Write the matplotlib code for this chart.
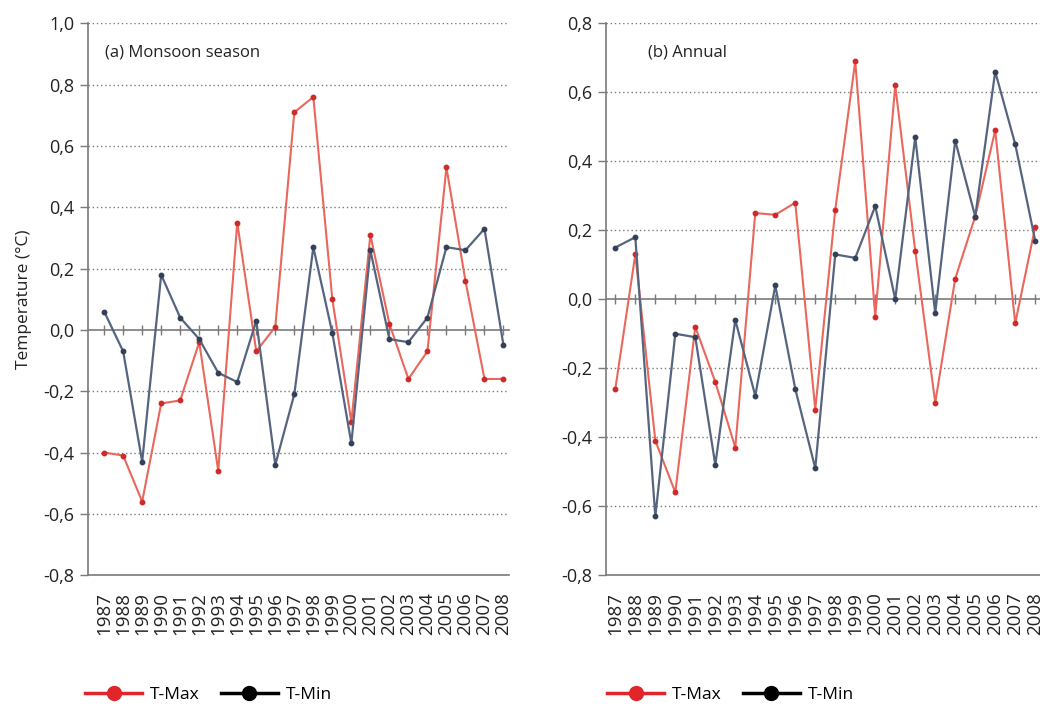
import matplotlib
matplotlib.use("Agg")
import matplotlib.pyplot as plt
from matplotlib.lines import Line2D

plt.rcParams["font.family"] = ["Open Sans", "DejaVu Sans"]
plt.rcParams["axes.unicode_minus"] = False

# ---- data: temperature anomalies (°C) ----
years = list(range(1987, 2009))

monsoon_tmax = [-0.40, -0.41, -0.56, -0.24, -0.23, -0.04, -0.46, 0.35, -0.07, 0.01, 0.71,
                0.76, 0.10, -0.30, 0.31, 0.02, -0.16, -0.07, 0.53, 0.16, -0.16, -0.16]
monsoon_tmin = [0.06, -0.07, -0.43, 0.18, 0.04, -0.03, -0.14, -0.17, 0.03, -0.44, -0.21,
                0.27, -0.01, -0.37, 0.26, -0.03, -0.04, 0.04, 0.27, 0.26, 0.33, -0.05]

annual_tmax = [-0.26, 0.13, -0.41, -0.56, -0.08, -0.24, -0.43, 0.25, 0.245, 0.28, -0.32,
               0.26, 0.69, -0.05, 0.62, 0.14, -0.30, 0.06, 0.24, 0.49, -0.07, 0.21]
annual_tmin = [0.15, 0.18, -0.63, -0.10, -0.11, -0.48, -0.06, -0.28, 0.04, -0.26, -0.49,
               0.13, 0.12, 0.27, 0.00, 0.47, -0.04, 0.46, 0.24, 0.66, 0.45, 0.17]

panel_titles = ["(a) Monsoon season", "(b) Annual"]
legend_labels = ["T-Max", "T-Min"]

RED_LINE, RED_DOT = "#e9675c", "#cf2a2a"
BLUE_LINE, BLUE_DOT = "#56657f", "#334058"
GRAY = "#7a7a7a"


def fmt(v):
    return f"{v:.1f}".replace(".", ",").replace("-0,0", "0,0")


def draw_panel(ax, tmax, tmin, yticks, xlim, title, title_x):
    ymin, ymax = yticks[0], yticks[-1]
    ax.plot(years, tmax, color=RED_LINE, lw=1.5, marker="o", ms=3.2,
            mfc=RED_DOT, mec=RED_DOT, zorder=3)
    ax.plot(years, tmin, color=BLUE_LINE, lw=1.6, marker="o", ms=3.2,
            mfc=BLUE_DOT, mec=BLUE_DOT, zorder=4)
    ax.set_ylim(ymin, ymax)
    ax.set_xlim(*xlim)

    ax.set_yticks(yticks)
    ax.set_yticklabels([fmt(v) for v in yticks])
    for v in yticks:
        if abs(v) > 1e-9:
            ax.axhline(v, color=GRAY, lw=1.0, ls=(0, (1, 2)), zorder=1)

    ax.set_xticks(years)
    ax.set_xticklabels([str(y) for y in years], rotation=90)
    ax.tick_params(axis="x", length=0, pad=12, labelsize=13.5, colors="#222222")
    ax.tick_params(axis="y", length=6, width=1, color=GRAY, direction="out",
                   labelsize=13, labelcolor="#222222", pad=4)

    for side in ("top", "right"):
        ax.spines[side].set_visible(False)
    for side in ("left", "bottom"):
        ax.spines[side].set_color(GRAY)
        ax.spines[side].set_linewidth(1.2)

    # zero line with year ticks
    zero = ax.secondary_xaxis((0 - ymin) / (ymax - ymin))
    zero.set_xticks(years)
    zero.tick_params(direction="inout", length=7, width=1, color=GRAY,
                     labelbottom=False, labeltop=False)
    for sp in zero.spines.values():
        sp.set_color(GRAY)
        sp.set_linewidth(1.2)

    ax.text(title_x, 0.947, title, transform=ax.transAxes, fontsize=12,
            color="#222222", va="center", ha="left")


fig = plt.figure(figsize=(10.4, 7.1), dpi=100)
ax1 = fig.add_axes([0.0846, 0.190, 0.405, 0.777])
ax2 = fig.add_axes([0.583, 0.190, 0.422, 0.777])

draw_panel(ax1, monsoon_tmax, monsoon_tmin,
           [-0.8, -0.6, -0.4, -0.2, 0.0, 0.2, 0.4, 0.6, 0.8, 1.0],
           (1986.15, 2008.3), panel_titles[0], 0.04)
draw_panel(ax2, annual_tmax, annual_tmin,
           [-0.8, -0.6, -0.4, -0.2, 0.0, 0.2, 0.4, 0.6, 0.8],
           (1986.55, 2008.5), panel_titles[1], 0.094)

ax1.set_ylabel("Temperature (°C)", fontsize=12.5, color="#222222", labelpad=8)

handles = [
    Line2D([], [], color="#e0262b", lw=2.5, marker="o", ms=10),
    Line2D([], [], color="#000000", lw=2.5, marker="o", ms=10),
]
for anchor in ((0.0817, 0.021), (0.5837, 0.021)):
    fig.legend(handles, legend_labels, loc="center left", bbox_to_anchor=anchor,
               ncol=2, frameon=False, fontsize=12.5, handlelength=3.3,
               handletextpad=0.45, columnspacing=1.2, borderpad=0, borderaxespad=0)

fig.savefig("out.png", dpi=100)
